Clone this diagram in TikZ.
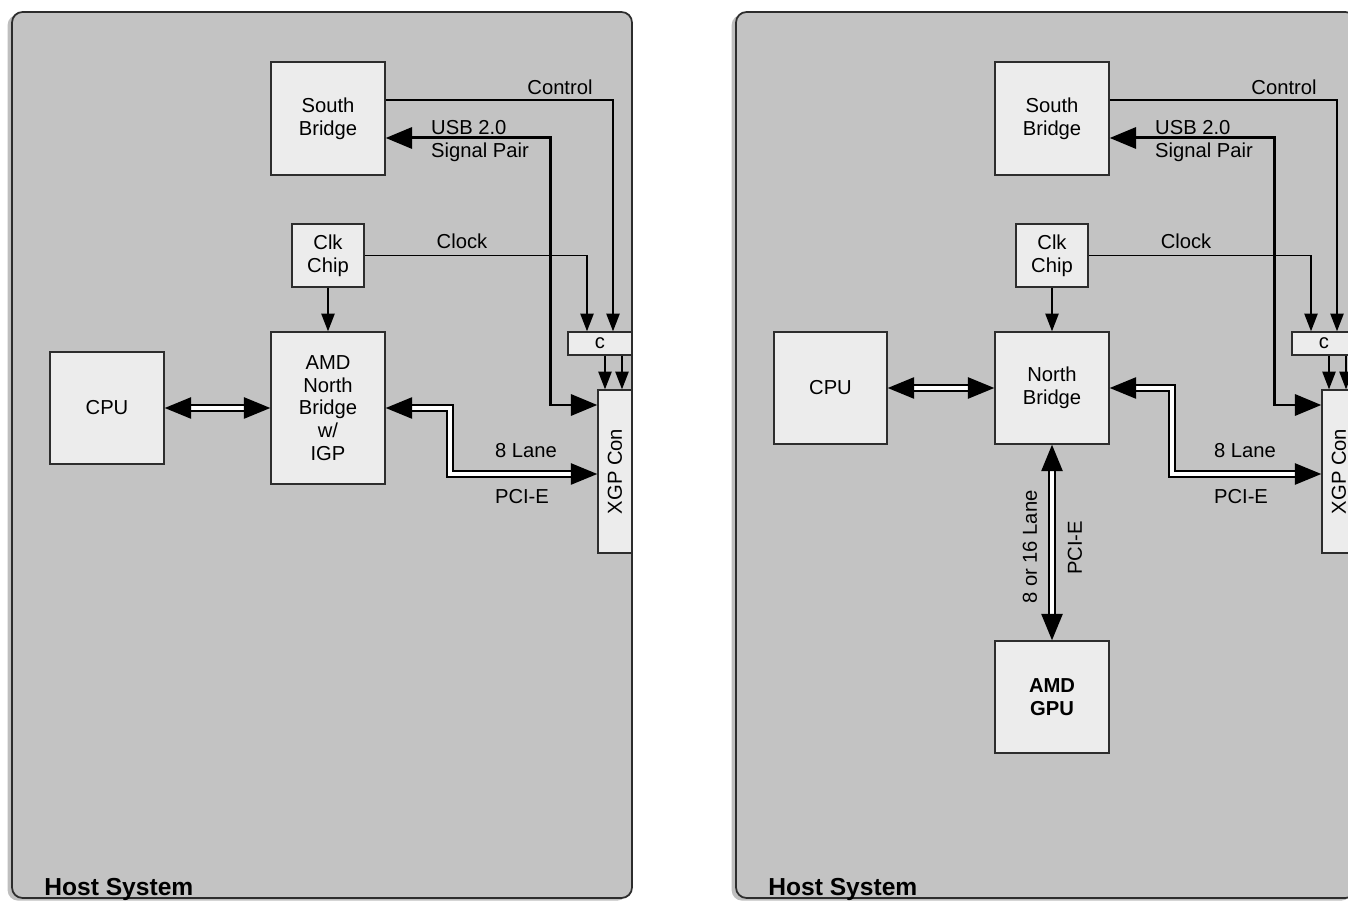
\documentclass[tikz,border=0pt]{standalone}
\usepackage{fontspec}
\setmainfont{Liberation Sans}
\usetikzlibrary{arrows.meta, calc, shadows}
\definecolor{panelgray}{RGB}{195,195,195}
\definecolor{boxgray}{RGB}{236,236,236}
\definecolor{edgegray}{RGB}{45,45,45}

\begin{document}
\begin{tikzpicture}[x=0.02cm, y=-0.02cm,
  every node/.style={font=\fontsize{11.5}{13}\selectfont},
  panel/.style={rounded corners=6pt, fill=panelgray, draw=edgegray, line width=1pt,
    drop shadow={shadow xshift=-2.5pt, shadow yshift=-1.5pt, opacity=0.25, fill=black}},
  blk/.style={draw=edgegray, fill=boxgray, line width=0.8pt, align=center, inner sep=0pt},
  sig/.style={draw=black, line width=0.9pt, -{Triangle[length=10pt,width=7.5pt]}},
  usb/.style={draw=black, line width=1.7pt,
    {Triangle[length=15pt,width=12pt]}-{Triangle[length=15pt,width=12pt]}},
  bus/.style={draw=black, double=white, double distance=2pt, line width=1.2pt,
    {Triangle[length=15pt,width=12pt]}-{Triangle[length=15pt,width=12pt]}},
  host/.style={font=\fontsize{14}{16}\selectfont\bfseries, anchor=base west, inner sep=0pt}]

  \useasboundingbox (0,0) rectangle (1348,901);
  \clip (0,0) rectangle (1348,901);

  % Host panels
  \draw[panel] (12,12) rectangle (632,898);
  \draw[panel] (736,12) rectangle (1356,898);

  %% Left host: north bridge with IGP
  \node[blk, minimum width=2.28cm, minimum height=2.26cm] (sbL) at (328,118.5) {South\\Bridge};
  \node[blk, minimum width=1.44cm, minimum height=1.26cm] (clkL) at (328,255.5) {Clk\\Chip};
  \node[blk, minimum width=2.28cm, minimum height=3.04cm] (nbL) at (328,408) {AMD\\North\\Bridge\\w/\\IGP};
  \node[blk, minimum width=2.28cm, minimum height=2.24cm] (cpuL) at (107,408) {CPU};
  \node[blk, minimum width=1.28cm, minimum height=0.46cm] (cL) at (600,343.5) {c};
  \node[blk, minimum width=0.68cm, minimum height=3.26cm] (xgpL) at (615,471.5) {};
  \node[rotate=90] (xgpLtxt) at (xgpL) {XGP Con};

  \node (ctrlL) at (560,87) {Control};
  \node[anchor=west, align=left] (usbLtxt) at (425,141) {USB 2.0\\Signal Pair};
  \node (clockL) at (462,241) {Clock};
  \node (laneL) at (526,451) {8 Lane};
  \node (pcieL) at (522,497) {PCI-E};
  \node[host] (hostL) at (44,895) {Host System};

  \coordinate (usbL) at (550,405);
  \coordinate (pcL) at (450,474);
  \draw[sig] ([yshift=0.37cm]sbL.east) -| ($(cL.north)+(13,0)$);
  \draw[sig] (clkL.east) -| ($(cL.north)+(-13,0)$);
  \draw[usb] ([yshift=-0.39cm]sbL.east) -| (usbL) -- (xgpL.west |- usbL);
  \draw[sig] (cL.south -| 605,0) -- (xgpL.north -| 605,0);
  \draw[sig] (cL.south -| 622,0) -- (xgpL.north -| 622,0);
  \draw[sig] (clkL) -- (nbL);
  \draw[bus] (cpuL) -- (nbL);
  \draw[bus] (nbL.east) -| (pcL) -- (xgpL.west |- pcL);

  %% Right host: north bridge with discrete GPU
  \node[blk, minimum width=2.28cm, minimum height=2.26cm] (sbR) at (1052,118.5) {South\\Bridge};
  \node[blk, minimum width=1.44cm, minimum height=1.26cm] (clkR) at (1052,255.5) {Clk\\Chip};
  \node[blk, minimum width=2.28cm, minimum height=2.24cm] (nbR) at (1052,388) {North\\Bridge};
  \node[blk, minimum width=2.26cm, minimum height=2.24cm] (cpuR) at (830.5,388) {CPU};
  \node[blk, minimum width=2.28cm, minimum height=2.24cm, font=\fontsize{11.5}{13}\selectfont\bfseries] (gpuR) at (1052,697) {AMD\\GPU};
  \node[blk, minimum width=1.28cm, minimum height=0.46cm] (cR) at (1324,343.5) {c};
  \node[blk, minimum width=0.68cm, minimum height=3.26cm] (xgpR) at (1339,471.5) {};
  \node[rotate=90] (xgpRtxt) at (xgpR) {XGP Con};

  \node (ctrlR) at (1284,87) {Control};
  \node[anchor=west, align=left] (usbRtxt) at (1149,141) {USB 2.0\\Signal Pair};
  \node (clockR) at (1186,241) {Clock};
  \node (laneR) at (1245,451) {8 Lane};
  \node (pcieR) at (1241,497) {PCI-E};
  \node[rotate=90] (laneGpu) at (1030,547) {8 or 16 Lane};
  \node[rotate=90] (pcieGpu) at (1075,548) {PCI-E};
  \node[host] (hostR) at (768,895) {Host System};

  \coordinate (usbR) at (1274,405);
  \coordinate (pcR) at (1172,474);
  \draw[sig] ([yshift=0.37cm]sbR.east) -| ($(cR.north)+(13,0)$);
  \draw[sig] (clkR.east) -| ($(cR.north)+(-13,0)$);
  \draw[usb] ([yshift=-0.39cm]sbR.east) -| (usbR) -- (xgpR.west |- usbR);
  \draw[sig] (cR.south -| 1329,0) -- (xgpR.north -| 1329,0);
  \draw[sig] (cR.south -| 1346,0) -- (xgpR.north -| 1346,0);
  \draw[sig] (clkR) -- (nbR);
  \draw[bus] (cpuR) -- (nbR);
  \draw[bus] (nbR.east) -| (pcR) -- (xgpR.west |- pcR);
  \draw[bus] (nbR) -- (gpuR);

\end{tikzpicture}
\end{document}
